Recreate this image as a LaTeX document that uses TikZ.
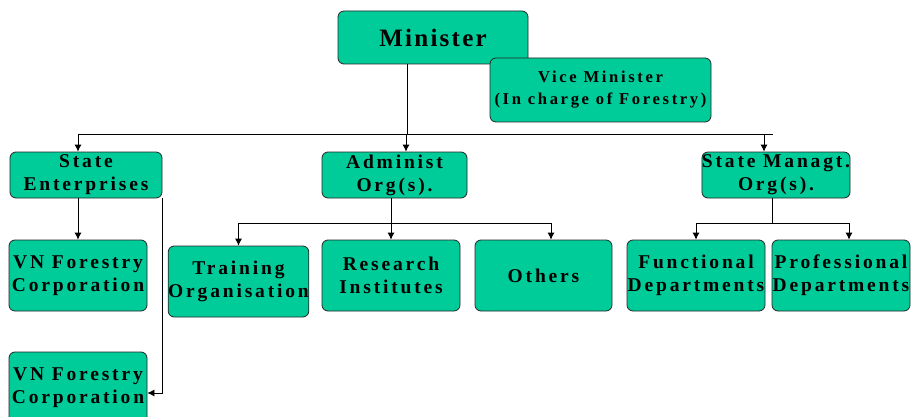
\documentclass[tikz,border=0pt]{standalone}
\usepackage{fontspec}
\setmainfont{Liberation Serif}
\newfontfamily\boxfont{Liberation Serif}[LetterSpace=14.5]
\newfontfamily\topfont{Liberation Serif}[LetterSpace=9]
\newfontfamily\vicefont{Liberation Serif}[LetterSpace=16]
\usepackage{tikz}
\usetikzlibrary{arrows.meta}
\definecolor{boxgreen}{RGB}{0,204,153}

\begin{document}
\begin{tikzpicture}[x=1pt,y=-1pt,
    unit/.style={draw=black!85,line width=0.8pt,fill=boxgreen,rounded corners=6pt,
        inner sep=0pt,align=center,font=\boxfont\bfseries\fontsize{19.5}{23}\selectfont},
    arr/.style={-{Latex[length=7pt,width=7pt]}},
    every path/.style={line width=0.8pt}]
\useasboundingbox (0,0) rectangle (912,417);
% top
\node[unit,minimum width=190pt,minimum height=53pt,font=\topfont\bfseries\fontsize{25}{30}\selectfont] (minister) at (433,37.5) {Minister};
\node[unit,minimum width=221pt,minimum height=64pt,font=\vicefont\bfseries\fontsize{16.6}{22}\selectfont] (vice) at (600.5,90) {Vice Minister\\(In charge of Forestry)};
% second row
\node[unit,minimum width=152pt,minimum height=46pt] (stateent) at (86,175) {State\\Enterprises};
\node[unit,minimum width=145pt,minimum height=46pt] (admin) at (394.5,175) {Administ\\Org(s).};
\node[unit,minimum width=146pt,minimum height=46pt] (statemgt) at (776,175) {State Managt.\\Org(s).};
% third row
\node[unit,minimum width=138pt,minimum height=71pt] (vnfc1) at (78,275.5) {VN Forestry\\Corporation};
\node[unit,minimum width=137pt,minimum height=71pt] (training) at (238.5,281.5) {Training\\Organisation};
\node[unit,minimum width=138pt,minimum height=71pt] (research) at (391,275.5) {Research\\Institutes};
\node[unit,minimum width=137pt,minimum height=71pt] (others) at (543.5,275.5) {Others};
\node[unit,minimum width=138pt,minimum height=71pt] (functional) at (696,275.5) {Functional\\Departments};
\node[unit,minimum width=138pt,minimum height=71pt] (professional) at (841,275.5) {Professional\\Departments};
\node[unit,minimum width=138pt,minimum height=71pt] (vnfc2) at (78,387.5) {VN Forestry\\Corporation};
% bus lines
\coordinate (busL) at (78,134);
\coordinate (busR) at (773,134);
\coordinate (admbus) at (391,223);
\coordinate (mgtbus) at (772,223);
\draw ([xshift=-26pt]minister.south) -- ([xshift=-26pt]minister.south |- busL);
\draw (busL) -- (busR);
\draw[arr] (busL) -- (busL |- stateent.north);
\draw[arr] ([xshift=11.5pt]admin.north |- busL) -- ([xshift=11.5pt]admin.north);
\draw[arr] ([xshift=-12pt]statemgt.north |- busL) -- ([xshift=-12pt]statemgt.north);
% state enterprises
\draw[arr] (vnfc1.north |- stateent.south) -- (vnfc1.north);
\draw[arr] (stateent.south east) |- ([yshift=-5.5pt]vnfc2.east);
% administ
\draw (admbus |- admin.south) -- (admbus);
\draw (training.north |- admbus) -- ([xshift=7.5pt]others.north |- admbus);
\draw[arr] (training.north |- admbus) -- (training.north);
\draw[arr] (admbus) -- (research.north);
\draw[arr] ([xshift=7.5pt]others.north |- admbus) -- ([xshift=7.5pt]others.north);
% state managt
\draw (mgtbus |- statemgt.south) -- (mgtbus);
\draw (functional.north |- mgtbus) -- ([xshift=8pt]professional.north |- mgtbus);
\draw[arr] (functional.north |- mgtbus) -- (functional.north);
\draw[arr] ([xshift=8pt]professional.north |- mgtbus) -- ([xshift=8pt]professional.north);
\end{tikzpicture}
\end{document}
